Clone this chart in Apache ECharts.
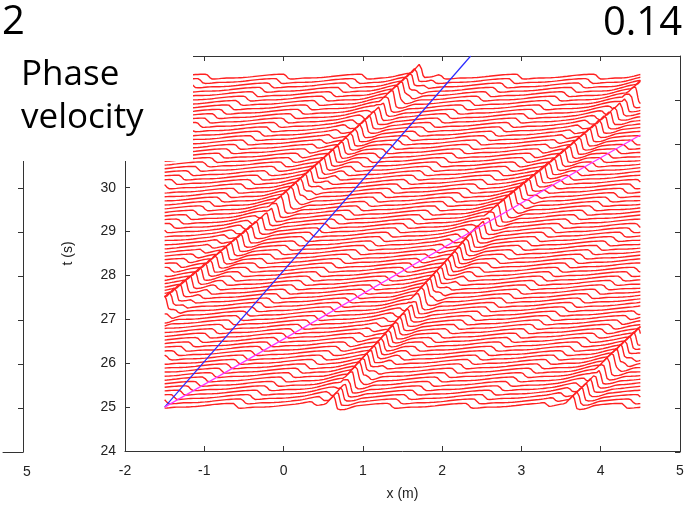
<!DOCTYPE html>
<html><head><meta charset="utf-8">
<script src="https://cdn.jsdelivr.net/npm/echarts@6/dist/echarts.min.js"></script>
<style>html,body{margin:0;padding:0;background:#fff}#c{width:694px;height:506px}</style>
</head><body><div id="c"></div>
<script>
// ---- data ----
const xTicks = [-2, -1, 0, 1, 2, 3, 4, 5];
const yTicks = [24, 25, 26, 27, 28, 29, 30, 31, 32, 33];
const traceTimes = [25.0,25.1,25.2,25.3,25.4,25.5,25.6,25.7,25.8,25.9,26.0,26.1,26.2,26.3,26.4,26.5,26.6,26.7,26.8,26.9,
  27.0,27.1,27.2,27.3,27.4,27.5,27.6,27.7,27.8,27.9,28.0,28.1,28.2,28.3,28.4,28.5,28.6,28.7,28.8,28.9,
  29.0,29.1,29.2,29.3,29.4,29.5,29.6,29.7,29.8,29.9,30.0,30.1,30.2,30.3,30.4,30.5,30.6,30.7,30.8,30.9,
  31.0,31.1,31.2,31.3,31.4,31.5,31.6,31.7,31.8,31.9,32.0,32.1,32.2,32.3,32.4,32.5];
const traceXRange = [-1.5, 4.5];
// steep crest tracks (x, t) read along the bold ridges
const steepTrackA = [[-1.5, 27.2], [0.07, 29.65], [1.6, 32.3]];
const steepTrackB = [[0.63, 25.0], [2.45, 28.9], [4.5, 32.1]];
const steepTrackC = [[3.65, 25.0], [4.5, 26.55]];
const steepHeight = 0.26;
// small crest ridges: time where each crosses x = -1.5, and their speed (m/s)
const smallCrestT0 = [18.26, 19.24, 20.22, 21.2, 22.18, 23.16, 24.14, 25.12, 26.1, 27.08, 28.06, 29.04, 30.02, 31.0, 31.98, 32.96];
const smallCrestSpeed = 1.0;
const smallHeight = 0.085;
// reference lines
const groupLine = [[-1.5, 25.0], [2.36, 33.0]];
const phaseLine = [[-1.5, 25.0], [4.5, 31.2]];
const leftPanelXTicks = [4, 5];

// ---- build traces ----
function cosUp(u) { return 0.5 - 0.5 * Math.cos(Math.PI * u); }
function smallWave(d, a) {            // gentle rise, quick fall, shallow trough
  if (d < -0.65 || d > 0.3) return 0;
  if (d <= 0) return a * cosUp((d + 0.65) / 0.65);
  if (d <= 0.08) return a - 1.3 * a * cosUp(d / 0.08);
  return -0.3 * a * (1 - cosUp((d - 0.08) / 0.22));
}
function steepWave(d, a) {            // gentle foot, steep upper back face, near-vertical front
  if (d < -0.5 || d > 0.3) return 0;
  if (d <= -0.1) return 0.3 * a * cosUp((d + 0.5) / 0.4);
  if (d <= 0) return a * (0.3 + 0.7 * (d + 0.1) / 0.1);
  if (d <= 0.06) return a - (a + 0.06) * cosUp(d / 0.06);
  if (d <= 0.12) return -0.06;
  return -0.06 * (1 - cosUp((d - 0.12) / 0.18));
}
function trackX(track, t) {
  let i = 0;
  while (i < track.length - 2 && t > track[i + 1][1]) i++;
  const p = track[i], q = track[i + 1];
  return p[0] + (q[0] - p[0]) * (t - p[1]) / (q[1] - p[1]);
}
const steepTracks = [steepTrackA, steepTrackB, steepTrackC];
const xs = [];
for (let x = traceXRange[0]; x <= traceXRange[1] + 1e-9; x += 0.01) xs.push(+x.toFixed(3));
const series = [];
traceTimes.forEach(t => {
  const crestsS = steepTracks.map(tr => trackX(tr, t));
  const crestsT = smallCrestT0.map(t0 => traceXRange[0] + (t - t0) * smallCrestSpeed);
  const data = xs.map(x => {
    let e = 0;
    crestsT.forEach(c => { e += smallWave(x - c, smallHeight); });
    crestsS.forEach(c => { e += steepWave(x - c, steepHeight); });
    return [x, t + e];
  });
  series.push({ type: 'line', data, showSymbol: false, silent: true, animation: false,
    lineStyle: { color: '#ff2020', width: 1.4 }, xAxisIndex: 0, yAxisIndex: 0, z: 2 });
});
series.push({ type: 'line', data: groupLine, showSymbol: false, silent: true, animation: false,
  lineStyle: { color: '#2b2bff', width: 1.2 }, z: 5 });
series.push({ type: 'line', data: phaseLine, showSymbol: false, silent: true, animation: false,
  lineStyle: { color: '#ff33ff', width: 1.3 }, z: 5 });
series.push({ type: 'line', data: [], xAxisIndex: 2, yAxisIndex: 2 });

const axisLine = { show: true, onZero: false, lineStyle: { color: '#333', width: 1 } };
const tickIn = { show: true, inside: true, length: 5, lineStyle: { color: '#333' } };
const lblFont = { fontFamily: 'Liberation Sans', fontSize: 14, color: '#222' };

const chart = echarts.init(document.getElementById('c'), null, { renderer: 'canvas' });
chart.setOption({
  backgroundColor: '#fff',
  animation: false,
  grid: [
    { left: 125, right: 14, top: 56, bottom: 54, show: false },
    { left: 125, right: 14, top: 56, bottom: 54, show: false },
    { left: 0, right: 671, top: 56, bottom: 54, show: false }
  ],
  xAxis: [
    { type: 'value', gridIndex: 0, min: -2, max: 5, interval: 1, position: 'bottom',
      axisLine, axisTick: tickIn, splitLine: { show: false },
      axisLabel: Object.assign({ margin: 13 }, lblFont),
      name: 'x (m)', nameLocation: 'middle', nameGap: 36, nameTextStyle: lblFont },
    { type: 'value', gridIndex: 1, min: -2, max: 5, interval: 1, position: 'top',
      axisLine, axisTick: tickIn, splitLine: { show: false }, axisLabel: { show: false } },
    { type: 'value', gridIndex: 2, min: leftPanelXTicks[0], max: leftPanelXTicks[1], interval: 1, position: 'bottom',
      axisLine, axisTick: { show: false }, splitLine: { show: false },
      axisLabel: Object.assign({ margin: 13, padding: [0, 0, 0, 8], formatter: v => (v === leftPanelXTicks[1] ? String(v) : '') }, lblFont) }
  ],
  yAxis: [
    { type: 'value', gridIndex: 0, min: 24, max: 33, interval: 1, position: 'left',
      axisLine, axisTick: tickIn, splitLine: { show: false },
      axisLabel: Object.assign({ margin: 9 }, lblFont),
      name: 't (s)', nameLocation: 'middle', nameGap: 50, nameTextStyle: lblFont },
    { type: 'value', gridIndex: 1, min: 24, max: 33, interval: 1, position: 'right',
      axisLine, axisTick: tickIn, splitLine: { show: false }, axisLabel: { show: false } },
    { type: 'value', gridIndex: 2, min: 24, max: 33, interval: 1, position: 'right',
      axisLine, axisTick: tickIn, splitLine: { show: false }, axisLabel: { show: false } }
  ],
  series,
  graphic: [
    { type: 'rect', z: 100, shape: { x: 4, y: 44, width: 189, height: 117 }, style: { fill: '#fff' } },
    { type: 'text', z: 101, style: { x: 21, y: 75, text: 'Phase', font: '35px "Open Sans"', fill: '#000', verticalAlign: 'middle' } },
    { type: 'text', z: 101, style: { x: 21, y: 118, text: 'velocity', font: '35px "Open Sans"', fill: '#000', verticalAlign: 'middle' } },
    { type: 'text', z: 101, style: { x: 2, y: 23, text: '2', font: '40px "Open Sans"', fill: '#000', verticalAlign: 'middle' } },
    { type: 'text', z: 101, style: { x: 682, y: 24, text: '0.14', font: '40px "Open Sans"', fill: '#000', align: 'right', verticalAlign: 'middle' } }
  ]
});
</script></body></html>
